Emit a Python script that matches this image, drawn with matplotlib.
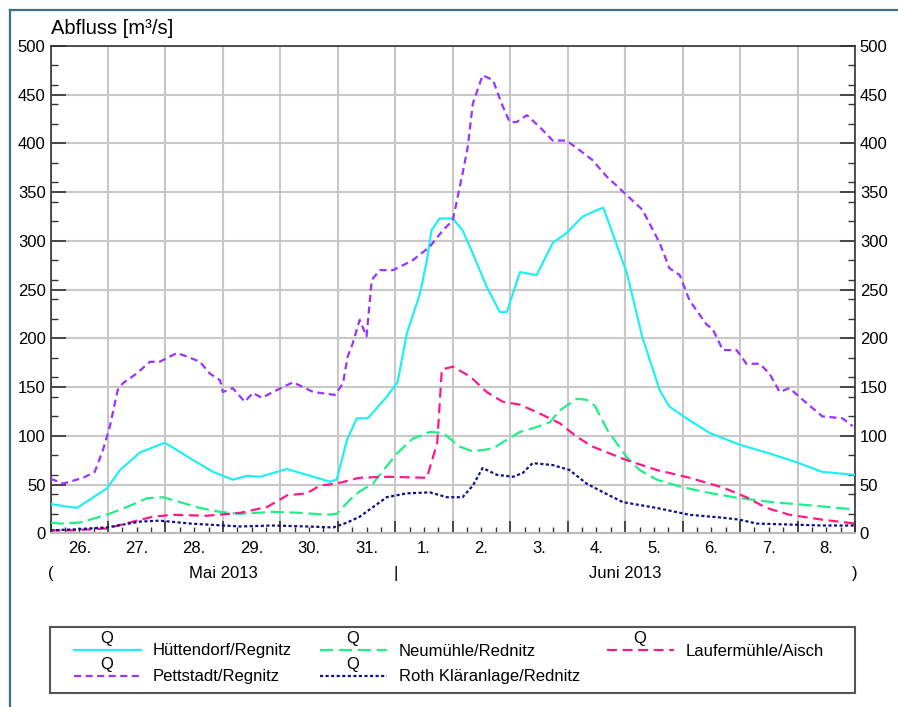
import matplotlib
matplotlib.use('Agg')
import matplotlib.pyplot as plt
from matplotlib.lines import Line2D
from matplotlib.patches import Rectangle
from matplotlib.ticker import MultipleLocator

plt.rcParams['font.family'] = ['Liberation Sans', 'DejaVu Sans']

# time in days since 26.05.2013 00:00, discharge in m3/s
huett_t = [0, 0.46, 0.98, 1.21, 1.56, 1.99, 2.43, 2.83, 3.17, 3.42, 3.65, 4.11, 4.46, 4.86, 4.98,
           5.16, 5.33, 5.52, 5.85, 6.04, 6.2, 6.43, 6.55, 6.63, 6.77, 7.0, 7.17, 7.35, 7.59, 7.82,
           7.94, 8.17, 8.46, 8.74, 8.98, 9.26, 9.52, 9.62, 9.78, 10.03, 10.3, 10.6, 10.77, 11.12,
           11.47, 11.99, 12.51, 12.98, 13.43, 14.0]
huett_q = [30, 26, 46, 65, 83, 93, 77, 63, 55, 59, 58, 66, 60, 53, 55,
           96, 118, 118, 140, 155, 205, 246, 280, 311, 323, 323, 311, 287, 253, 227,
           227, 268, 265, 298, 308, 325, 332, 334, 308, 267, 201, 147, 130, 116,
           103, 91, 82, 73, 63, 60]

pett_t = [0, 0.22, 0.57, 0.77, 0.91, 1.03, 1.17, 1.26, 1.5, 1.73, 1.9, 2.2, 2.39, 2.6, 2.77, 2.95,
          3.0, 3.17, 3.38, 3.52, 3.68, 3.87, 4.22, 4.57, 4.95, 5.09, 5.17, 5.26, 5.38, 5.5, 5.59,
          5.73, 5.96, 6.3, 6.6, 6.83, 7.0, 7.17, 7.26, 7.35, 7.52, 7.7, 7.85, 7.99, 8.11, 8.29,
          8.51, 8.74, 8.98, 9.21, 9.43, 9.68, 9.9, 10.3, 10.6, 10.77, 10.95, 11.12, 11.42, 11.52,
          11.7, 11.94, 12.11, 12.34, 12.51, 12.69, 12.86, 13.09, 13.43, 13.78, 13.96]
pett_q = [56, 51, 57, 63, 85, 109, 147, 154, 164, 176, 176, 185, 181, 176, 164, 157,
          145, 149, 135, 144, 139, 145, 155, 145, 142, 154, 181, 195, 219, 202, 260,
          270, 270, 280, 294, 311, 321, 369, 396, 441, 470, 465, 441, 422, 422, 429,
          417, 403, 403, 393, 383, 366, 354, 332, 298, 272, 265, 239, 214, 210,
          188, 188, 174, 174, 164, 145, 149, 137, 120, 118, 110]

neum_t = [0, 0.17, 0.51, 0.98, 1.33, 1.68, 1.96, 2.25, 2.6, 2.95, 3.3, 3.87, 4.34, 4.81, 4.98,
          5.22, 5.38, 5.61, 6.03, 6.3, 6.6, 6.83, 7.12, 7.35, 7.7, 7.94, 8.17, 8.46, 8.69, 8.86,
          9.16, 9.33, 9.47, 9.7, 10.03, 10.25, 10.55, 10.95, 11.42, 11.99, 12.57, 13.16, 13.9, 14.0]
neum_q = [11, 10, 11, 19, 27, 36, 37, 32, 26, 22, 20, 22, 21, 19, 20,
          35, 43, 51, 82, 97, 104, 103, 89, 84, 87, 96, 104, 109, 114, 126,
          138, 137, 131, 105, 78, 65, 55, 48, 42, 36, 32, 29, 25, 25]

lauf_t = [0, 0.39, 0.98, 1.44, 1.78, 2.13, 2.72, 3.3, 3.77, 4.12, 4.46, 4.69, 4.98, 5.38, 5.85,
          6.55, 6.73, 6.81, 7.0, 7.3, 7.59, 7.87, 8.17, 8.51, 8.86, 9.16, 9.43, 9.9, 10.03, 10.55,
          11.12, 11.7, 12.11, 12.46, 12.86, 13.43, 14.0]
lauf_q = [3, 3, 5, 12, 17, 19, 18, 21, 27, 39, 41, 49, 51, 57, 58,
          57, 93, 168, 171, 161, 145, 135, 132, 123, 113, 99, 89, 78, 75, 65,
          57, 47, 37, 26, 19, 14, 10]

roth_t = [0, 0.39, 0.98, 1.56, 1.9, 2.43, 3.3, 3.87, 4.46, 4.92, 5.16, 5.38, 5.85, 6.2, 6.6,
          6.9, 7.17, 7.35, 7.52, 7.77, 8.05, 8.22, 8.39, 8.74, 9.03, 9.33, 9.62, 9.96, 10.55,
          11.12, 11.7, 11.99, 12.29, 12.86, 13.43, 14.0]
roth_q = [3, 4, 6, 12, 13, 10, 7, 8, 7, 6, 11, 17, 37, 41, 42,
          37, 37, 49, 67, 60, 58, 62, 72, 70, 65, 51, 42, 32, 26,
          19, 16, 14, 10, 9, 8, 8]

names = ['Hüttendorf/Regnitz', 'Neumühle/Rednitz', 'Laufermühle/Aisch',
         'Pettstadt/Regnitz', 'Roth Kläranlage/Rednitz']
series_t = [huett_t, neum_t, lauf_t, pett_t, roth_t]
series_q = [huett_q, neum_q, lauf_q, pett_q, roth_q]
colors = ['#22eef5', '#22ee88', '#ff1888', '#9933ff', '#10108a']
styles = ['-', (0, (6, 2.5)), (0, (4.5, 2.5)), (0, (3.2, 2)), (0, (1.4, 1.1))]
widths = [1.6, 1.6, 1.6, 1.6, 1.6]

day_labels = ['26.', '27.', '28.', '29.', '30.', '31.', '1.', '2.', '3.', '4.', '5.', '6.', '7.', '8.']
months = ['Mai 2013', 'Juni 2013']

fs = 12
W, H = 898, 707
fig = plt.figure(figsize=(W / 100, H / 100), dpi=100)
x0, x1, y0, y1 = 50.5, 855, 46, 533.3
ax = fig.add_axes([x0 / W, 1 - y1 / H, (x1 - x0) / W, (y1 - y0) / H])

for t, q, c, ls, lw in zip(series_t, series_q, colors, styles, widths):
    ax.plot(t, q, color=c, linestyle=ls, linewidth=lw, zorder=3)

ax.set_xlim(0, 14)
ax.set_ylim(0, 500)
ax.xaxis.set_major_locator(MultipleLocator(1))
ax.xaxis.set_minor_locator(MultipleLocator(0.25))
ax.yaxis.set_major_locator(MultipleLocator(50))
ax.yaxis.set_minor_locator(MultipleLocator(20))
ax.grid(True, which='major', color='#c8c8c8', linewidth=1.5, zorder=0)
ax.set_axisbelow(True)

ax.tick_params(axis='x', which='both', direction='in', labelbottom=False, color='#333333')
ax.tick_params(axis='x', which='major', length=9, width=1.2)
ax.tick_params(axis='x', which='minor', length=4.5, width=1)
ax.tick_params(axis='y', which='both', direction='in', left=True, right=True,
               labelleft=True, labelright=True, color='#333333', labelsize=fs, pad=3.5)
ax.tick_params(axis='y', which='major', length=11, width=1.2)
ax.tick_params(axis='y', which='minor', length=5, width=1)
for s in ['left', 'right', 'top']:
    ax.spines[s].set_color('#333333')
    ax.spines[s].set_linewidth(1.2)
ax.spines['bottom'].set_color('#b8b8b8')
ax.spines['bottom'].set_linewidth(1.5)

# day labels at day centers
for i, lab in enumerate(day_labels):
    ax.text(i + 0.5, -0.032, lab, transform=ax.get_xaxis_transform(),
            ha='center', va='center', fontsize=fs)
# month row
ym = -0.0815
ax.text(0, ym, '(', transform=ax.get_xaxis_transform(), ha='center', va='center', fontsize=fs)
ax.text(3, ym, months[0], transform=ax.get_xaxis_transform(), ha='center', va='center', fontsize=fs)
ax.text(6, ym, '|', transform=ax.get_xaxis_transform(), ha='center', va='center', fontsize=fs)
ax.text(10, ym, months[1], transform=ax.get_xaxis_transform(), ha='center', va='center', fontsize=fs)
ax.text(14, ym, ')', transform=ax.get_xaxis_transform(), ha='center', va='center', fontsize=fs)

fig.text(51 / W, 1 - 28 / H, 'Abfluss [m³/s]', ha='left', va='center', fontsize=14.5)

# outer frame (left and top edges)
fig.add_artist(Line2D([10 / W, 10 / W], [0, 1 - 10 / H], color='#3d7088', linewidth=1.6))
fig.add_artist(Line2D([10 / W, 1], [1 - 10 / H, 1 - 10 / H], color='#3d7088', linewidth=1.6))

# legend box
fig.add_artist(Rectangle((50 / W, 1 - 693 / H), (855 - 50) / W, (693 - 627) / H,
                         transform=fig.transFigure, fill=False, edgecolor='#555555', linewidth=1.5))
leg_x = [74, 320, 607, 74, 320]
leg_y = [650, 650, 650, 676, 676]
for name, c, ls, lw, lx, ly in zip(names, colors, styles, widths, leg_x, leg_y):
    fig.add_artist(Line2D([lx / W, (lx + 67) / W], [1 - ly / H, 1 - ly / H],
                          color=c, linestyle=ls, linewidth=lw))
    fig.text((lx + 33) / W, 1 - (ly - 11) / H, 'Q', ha='center', va='center', fontsize=fs)
    fig.text((lx + 79) / W, 1 - (ly + 1) / H, name, ha='left', va='center', fontsize=fs)

fig.savefig('out.png', dpi=100)
